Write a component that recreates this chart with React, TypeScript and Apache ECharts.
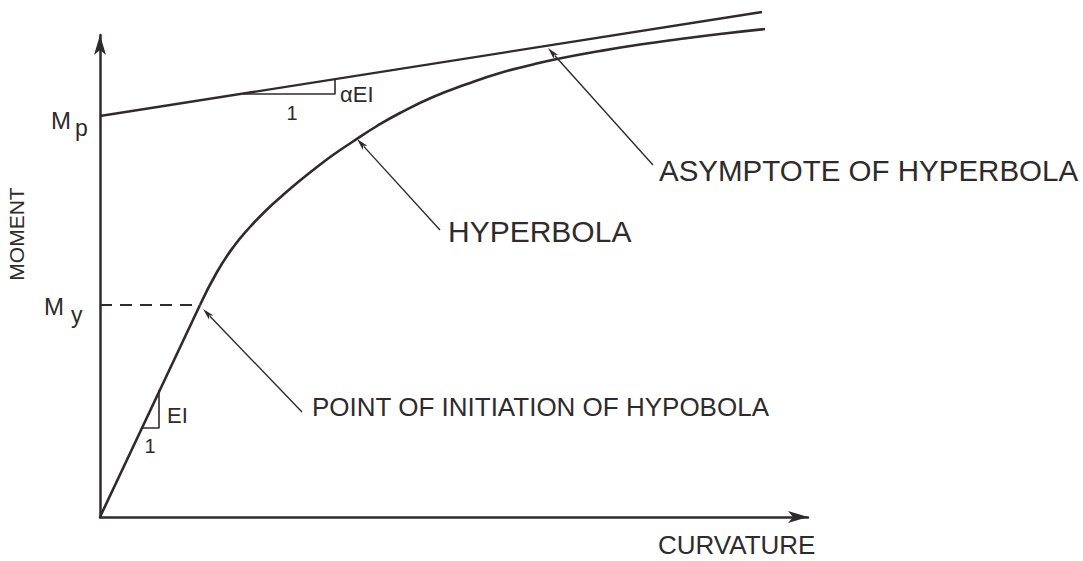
import React, { useEffect, useRef } from "react";
import * as echarts from "echarts";

// ---- data (1 unit of curvature / moment) ----
const PHI_Y = 1.0; // curvature at first yield
const M_Y = 2.12; // yield moment
const M_P = 4.01; // plastic moment (asymptote intercept)

const elasticCurv = [0, PHI_Y];
const elasticMom = [0, M_Y];

const hyperCurv = [1.0, 1.17, 1.33, 1.5, 1.67, 1.83, 2.0, 2.17, 2.33, 2.53, 2.77, 3.0, 3.33, 3.67, 4.0, 4.33, 4.57, 5.0, 5.4, 5.8, 6.2, 6.65];
const hyperMom = [2.12, 2.45, 2.695, 2.9, 3.075, 3.22, 3.365, 3.5, 3.62, 3.755, 3.91, 4.04, 4.2, 4.33, 4.44, 4.525, 4.58, 4.66, 4.725, 4.78, 4.83, 4.88];

const asymCurv = [0, 6.62];
const asymMom = [M_P, 5.05];

const yieldDashCurv = [0, PHI_Y];
const yieldDashMom = [M_Y, M_Y];

// slope triangles
const eiTriCurv = [0.43, 0.59, 0.59];
const eiTriMom = [0.89, 0.89, 1.27];
const aeiTriCurv = [1.43, 2.35, 2.35];
const aeiTriMom = [4.23, 4.23, 4.37];

const X_MAX = 7.08;
const Y_MAX = 4.82;

// leaders: [fromCurv, fromMom, toCurv, toMom]
const leaders = [
  [3.4, 2.87, 2.57, 3.78],
  [2.02, 1.05, 1.03, 2.08],
  [5.53, 3.52, 4.48, 4.69],
];

// labels: text, curvature, moment, font size, align
const labels: [string, number, number, number, string][] = [
  ["CURVATURE", 5.58, -0.28, 26, "left"],
  ["HYPERBOLA", 3.48, 2.86, 30, "left"],
  ["POINT OF INITIATION OF HYPOBOLA", 2.12, 1.1, 26, "left"],
  ["ASYMPTOTE OF HYPERBOLA", 5.59, 3.47, 29.5, "left"],
  ["αEI", 2.4, 4.23, 22, "left"],
  ["1", 1.92, 4.04, 20, "center"],
  ["EI", 0.67, 1.02, 22, "left"],
  ["1", 0.5, 0.71, 20, "center"],
  ["M", -0.49, 3.97, 24, "left"],
  ["p", -0.25, 3.89, 23, "left"],
  ["M", -0.56, 2.11, 24, "left"],
  ["y", -0.29, 2.02, 23, "left"],
];
const yAxisTitle = "MOMENT";
const yAxisTitlePos = [-0.84, 2.83];

const INK = "#2f2b2c";
const FONT = '"Liberation Sans", Arial, sans-serif';

const zip = (a: number[], b: number[]) => a.map((v, i) => [v, b[i]]);

export default function App() {
  const ref = useRef<HTMLDivElement>(null);
  useEffect(() => {
    const chart = echarts.init(ref.current!, null, { renderer: "svg" });
    const axisCommon = {
      type: "value" as const,
      splitLine: { show: false },
      axisTick: { show: false },
      axisLabel: { show: false },
      axisLine: {
        show: true,
        onZero: false,
        symbol: ["none", "arrow"],
        symbolSize: [9, 20],
        lineStyle: { color: INK, width: 2.5 },
      },
    };
    const lineSeries = (data: number[][], extra: any = {}) => ({
      type: "line",
      data,
      showSymbol: false,
      symbol: "none",
      clip: false,
      silent: true,
      lineStyle: { color: INK, width: 2.6 },
      ...extra,
    });
    chart.setOption({
      animation: false,
      backgroundColor: "#ffffff",
      grid: { left: 100, right: 275, top: 35, bottom: 44 },
      xAxis: { ...axisCommon, min: 0, max: X_MAX },
      yAxis: { ...axisCommon, min: 0, max: Y_MAX },
      series: [
        lineSeries(zip(elasticCurv, elasticMom)),
        lineSeries(zip(hyperCurv, hyperMom), { smooth: 0.5 }),
        lineSeries(zip(asymCurv, asymMom), { lineStyle: { color: INK, width: 2.3 } }),
        lineSeries(zip(yieldDashCurv, yieldDashMom), {
          lineStyle: { color: INK, width: 2, type: [12, 8] },
        }),
        lineSeries(zip(eiTriCurv, eiTriMom), { lineStyle: { color: INK, width: 1.6 } }),
        lineSeries(zip(aeiTriCurv, aeiTriMom), { lineStyle: { color: INK, width: 1.6 } }),
      ],
    });

    const px = (c: number, m: number) =>
      chart.convertToPixel({ gridIndex: 0 }, [c, m]) as number[];
    const graphics: any[] = [];
    leaders.forEach(([c0, m0, c1, m1]) => {
      const a = px(c0, m0);
      const b = px(c1, m1);
      const dx = b[0] - a[0];
      const dy = b[1] - a[1];
      const len = Math.hypot(dx, dy);
      const ux = dx / len;
      const uy = dy / len;
      const L = 12;
      const W = 6;
      const bx = b[0] - ux * L;
      const by = b[1] - uy * L;
      graphics.push({
        type: "line",
        silent: true,
        shape: { x1: a[0], y1: a[1], x2: bx + ux * 2, y2: by + uy * 2 },
        style: { stroke: INK, lineWidth: 1.4 },
      });
      graphics.push({
        type: "polygon",
        silent: true,
        shape: {
          points: [
            [b[0], b[1]],
            [bx - uy * W / 2, by + ux * W / 2],
            [bx + ux * 3, by + uy * 3],
            [bx + uy * W / 2, by - ux * W / 2],
          ],
        },
        style: { fill: INK },
      });
    });
    labels.forEach(([text, c, m, size, align]) => {
      const p = px(c, m);
      graphics.push({
        type: "text",
        silent: true,
        x: p[0],
        y: p[1],
        style: {
          text,
          x: 0,
          y: 0,
          font: `${size}px ${FONT}`,
          fill: INK,
          align,
          verticalAlign: "middle",
          textAlign: align,
          textVerticalAlign: "middle",
        },
      });
    });
    const tp = px(yAxisTitlePos[0], yAxisTitlePos[1]);
    graphics.push({
      type: "text",
      silent: true,
      x: tp[0],
      y: tp[1],
      rotation: Math.PI / 2,
      style: {
        text: yAxisTitle,
        x: 0,
        y: 0,
        font: `21px ${FONT}`,
        fill: INK,
        align: "center",
        verticalAlign: "middle",
        textAlign: "center",
        textVerticalAlign: "middle",
      },
    });
    chart.setOption({ graphic: graphics });
    return () => chart.dispose();
  }, []);
  return (
    <div
      ref={ref}
      style={{ position: "fixed", left: 0, top: 0, width: 1083, height: 561, background: "#fff" }}
    />
  );
}
